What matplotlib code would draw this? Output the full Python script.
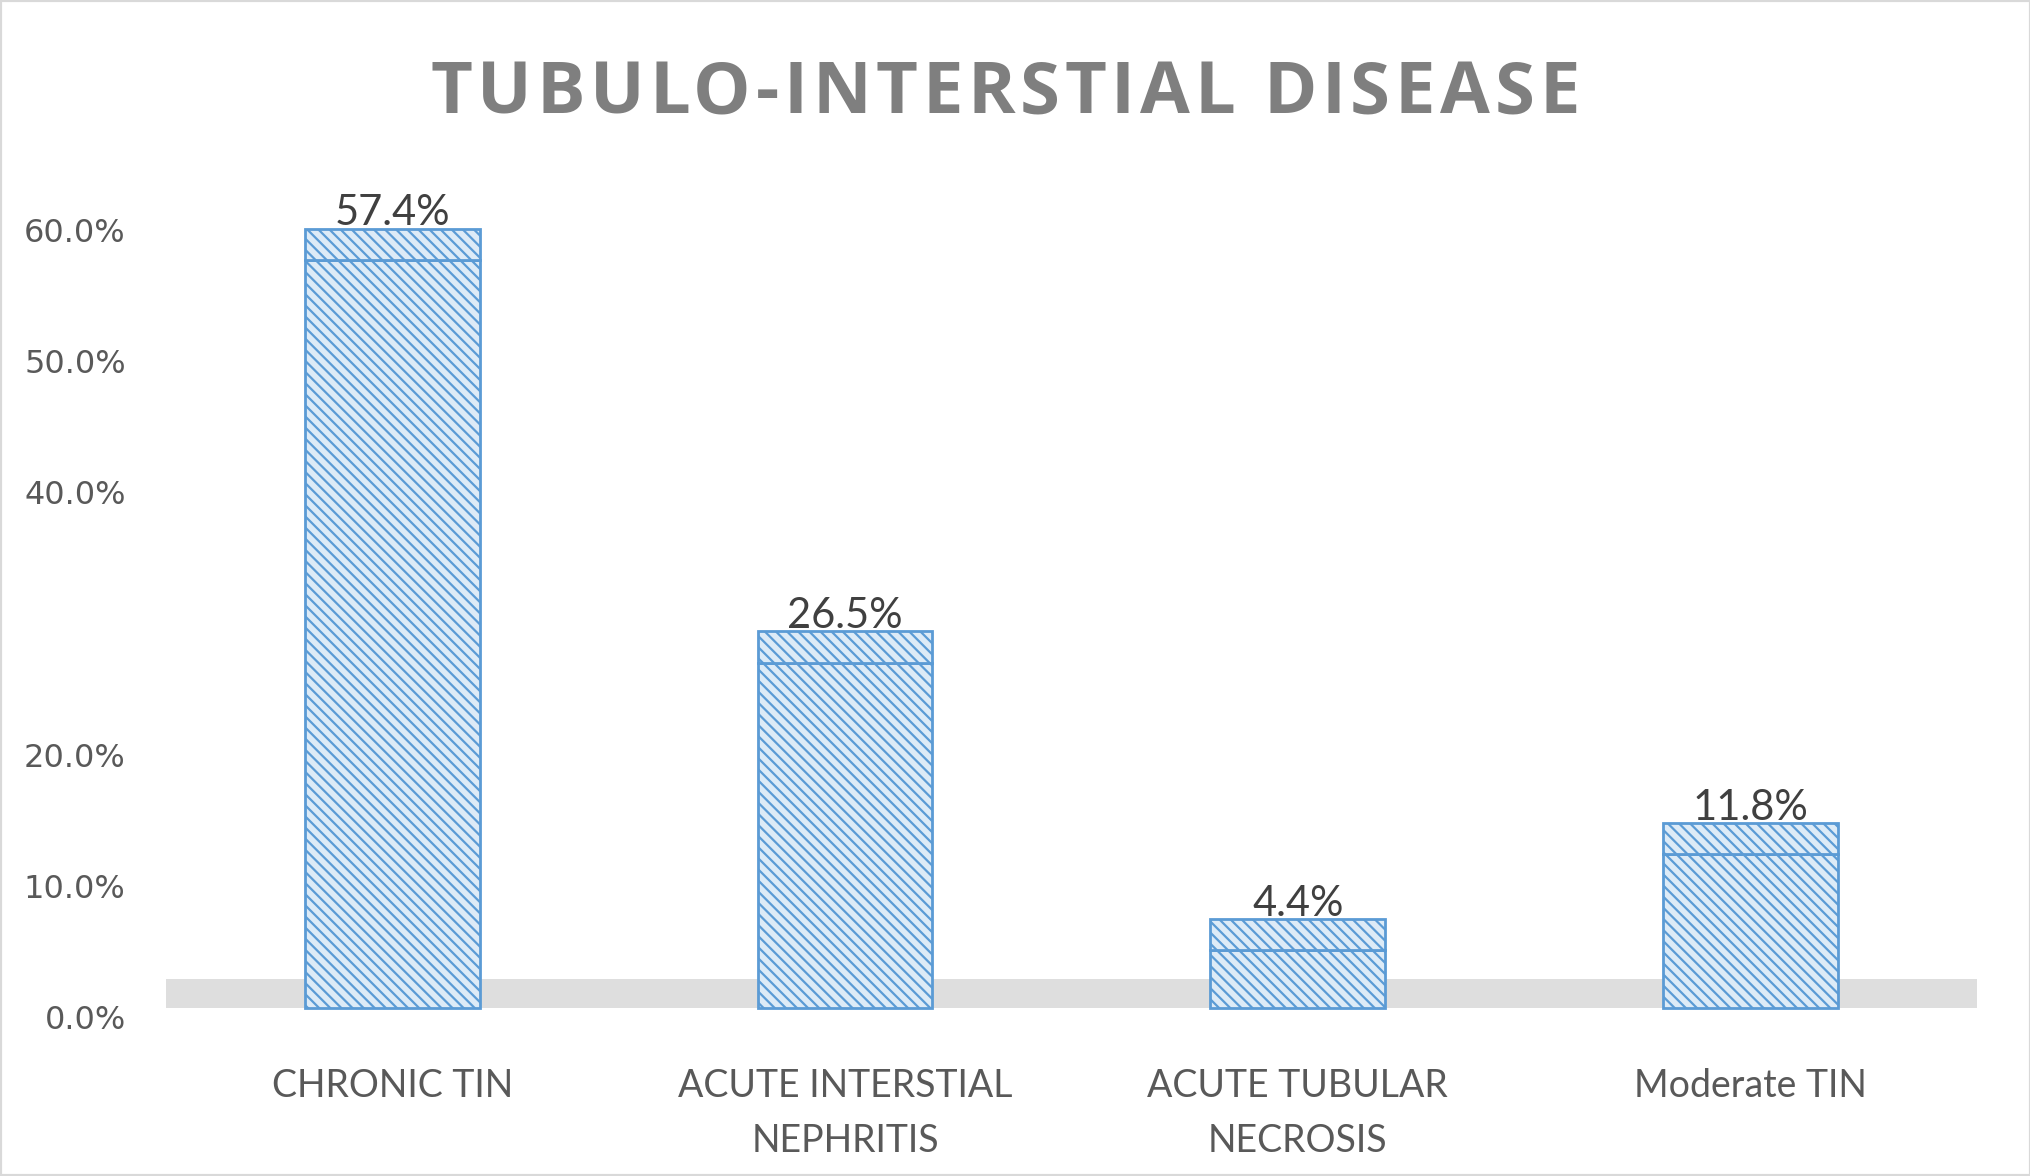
import matplotlib
matplotlib.use("Agg")
import matplotlib.pyplot as plt
from matplotlib.patches import Rectangle

# data
categories = ["CHRONIC TIN", "ACUTE INTERSTIAL\nNEPHRITIS", "ACUTE TUBULAR\nNECROSIS", "Moderate TIN"]
values = [57.4, 26.5, 4.4, 11.8]
tick_values = [0, 10, 20, 40, 50, 60]  # 30% label is missing in the original
tick_labels = ["0.0%", "10.0%", "20.0%", "40.0%", "50.0%", "60.0%"]
title = "TUBULO-INTERSTIAL DISEASE"

blue = "#5b9bd5"
face = "#ddebf7"
depth = 2.4     # top face of the 3d column (in % units)
floor_h = 2.2   # grey floor strip

plt.rcParams["hatch.linewidth"] = 1.6

W, H = 2031, 1176
fig = plt.figure(figsize=(W / 100, H / 100), dpi=100)
ax = fig.add_axes([0.0817, 0.1264, 0.8917, 0.7102])
ax.set_xlim(-0.5, 3.5)
ax.set_ylim(-1.5, 62.6)

x = list(range(len(values)))
width = 0.386
hatch = chr(92) * 3

# floor
ax.axhspan(0, floor_h, color="#dedede", lw=0, zorder=1)

# front faces
ax.bar(x, values, width=width, color=face, edgecolor=blue, hatch=hatch,
       linewidth=2, zorder=3)
# top faces
ax.bar(x, [depth] * len(values), bottom=values, width=width, color=face,
       edgecolor=blue, hatch=hatch, linewidth=2, zorder=3)

for i, v in enumerate(values):
    ax.text(i, v + depth + 0.25, f"{v:.1f}%", ha="center", va="baseline",
            fontsize=30, color="#404040", family="Lato")

ax.set_yticks([t * 1.0065 - 0.7 for t in tick_values])
ax.set_yticklabels(tick_labels, family="DejaVu Sans", fontsize=23, color="#595959")
ax.set_xticks(x)
ax.set_xticklabels(categories, family="Lato", fontsize=27, color="#595959",
                   linespacing=1.68)
ax.tick_params(axis="y", length=0, pad=29)
ax.tick_params(axis="x", length=0, pad=29)
for s in ax.spines.values():
    s.set_visible(False)

# title with letter spacing (drawn char by char)
tkw = dict(fontsize=52, weight="bold", color="#7f7f7f", family="Open Sans",
           va="baseline", ha="left")
r = fig.canvas.get_renderer()


def text_w(s):
    t = fig.text(0, 0, s, **tkw)
    w = t.get_window_extent(r).width
    t.remove()
    return w


target_w = 1149
full_w = text_w(title)
sp = (target_w - full_w) / (len(title) - 1)
x0 = 1005 - target_w / 2
base_y = 1 - 113 / H
for k, ch in enumerate(title):
    if ch == " ":
        continue
    left = text_w(title[:k + 1]) - text_w(ch) + k * sp
    fig.text((x0 + left) / W, base_y, ch, **tkw)

fig.patches.append(Rectangle((0, 0), 1, 1, transform=fig.transFigure, fill=False,
                             edgecolor="#d9d9d9", linewidth=3))

fig.savefig("out.png", dpi=100)
